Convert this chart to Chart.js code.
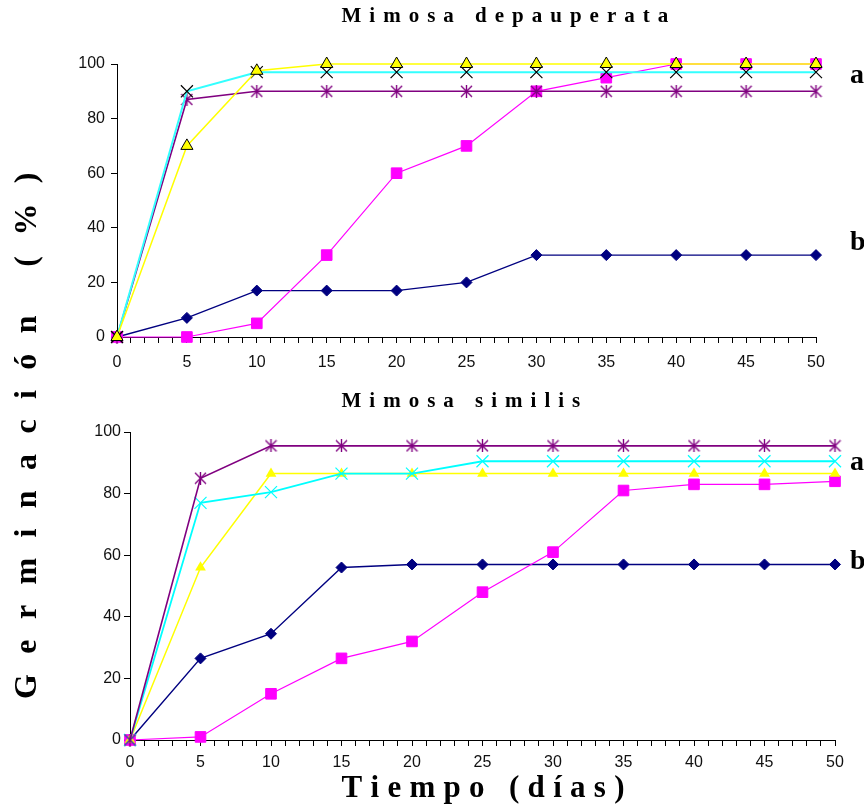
<!DOCTYPE html>
<html lang="es">
<head>
<meta charset="utf-8">
<title>Germinación de Mimosa</title>
<script src="https://cdn.jsdelivr.net/npm/chart.js@4/dist/chart.umd.min.js"></script>
<style>
  html, body { margin: 0; padding: 0; background: #ffffff; }
  #wrap { position: relative; width: 864px; height: 808px; overflow: hidden; }
  #wrap canvas { position: absolute; left: 0; top: 0; }
</style>
</head>
<body>
<div id="wrap">
  <canvas id="cTop" width="864" height="808"></canvas>
  <canvas id="cBottom" width="864" height="808"></canvas>
</div>
<script>
// Días de observación
const dias = [0, 5, 10, 15, 20, 25, 30, 35, 40, 45, 50];

// Mimosa depauperata: germinación acumulada (%)
const depAzul     = [0, 7, 17, 17, 17, 20, 30, 30, 30, 30, 30];
const depMagenta  = [0, 0, 5, 30, 60, 70, 90, 95, 100, 100, 100];
const depAmarillo = [0, 70, 97.5, 100, 100, 100, 100, 100, 100, 100, 100];
const depCian     = [0, 90, 97, 97, 97, 97, 97, 97, 97, 97, 97];
const depMorado   = [0, 87, 90, 90, 90, 90, 90, 90, 90, 90, 90];

// Mimosa similis: germinación acumulada (%)
const simAzul     = [0, 26.5, 34.5, 56, 57, 57, 57, 57, 57, 57, 57];
const simMagenta  = [0, 1, 15, 26.5, 32, 48, 61, 81, 83, 83, 84];
const simAmarillo = [0, 56, 86.5, 86.5, 86.5, 86.5, 86.5, 86.5, 86.5, 86.5, 86.5];
const simCian     = [0, 77, 80.5, 86.5, 86.5, 90.5, 90.5, 90.5, 90.5, 90.5, 90.5];
const simMorado   = [0, 85, 95.5, 95.5, 95.5, 95.5, 95.5, 95.5, 95.5, 95.5, 95.5];

// Eje Y
const yMin = 0, yMax = 100, yPaso = 20;

const puntos = vals => dias.map((d, i) => ({ x: d, y: vals[i] }));

// Marcador asterisco (aspa + trazo vertical)
function asterisco(color, size, lw) {
  const c = document.createElement('canvas');
  c.width = size; c.height = size;
  const g = c.getContext('2d');
  g.strokeStyle = color; g.lineWidth = lw;
  const a = 1, b = size - 1, m = size / 2;
  g.beginPath();
  g.moveTo(a, a); g.lineTo(b, b);
  g.moveTo(b, a); g.lineTo(a, b);
  g.moveTo(m, 0); g.lineTo(m, size);
  g.stroke();
  return c;
}

// Texto con espaciado entre letras
function espaciado(ctx, txt, x, y, gap) {
  let cx = x;
  for (const ch of txt) {
    ctx.fillText(ch, cx, y);
    cx += ctx.measureText(ch).width + gap;
  }
}

const SERIF = '"Liberation Serif", "Times New Roman", serif';
const SANS = '"Liberation Sans", Arial, sans-serif';

function textos(cfg) {
  return {
    id: 'textos',
    afterDraw(chart) {
      const ctx = chart.ctx;
      ctx.save();
      ctx.fillStyle = '#000000';
      ctx.textBaseline = 'alphabetic';
      ctx.textAlign = 'left';
      ctx.font = 'bold 21px ' + SERIF;
      espaciado(ctx, cfg.titulo, 341.5, cfg.tituloY, 8);
      ctx.font = 'bold 28px ' + SERIF;
      ctx.fillText('a', 850, cfg.aY);
      ctx.fillText('b', 850, cfg.bY);
      if (cfg.ejes) {
        ctx.font = 'bold 31px ' + SERIF;
        espaciado(ctx, 'Tiempo (días)', 341.5, 797, 8.3);
        ctx.save();
        ctx.translate(36, 699);
        ctx.rotate(-Math.PI / 2);
        ctx.font = 'bold 32px ' + SERIF;
        espaciado(ctx, 'Germinación (%)', 0, 0, 20.4);
        ctx.restore();
      }
      ctx.restore();
    }
  };
}

function escalas(yPad, xPad) {
  return {
    x: {
      type: 'linear', min: 0, max: 50,
      afterFit: s => { s.height = 40; },
      border: { display: true, color: '#000000', width: 1 },
      grid: { display: true, drawOnChartArea: false, drawTicks: true, tickLength: 6, color: '#000000', lineWidth: 1 },
      ticks: {
        stepSize: 1, autoSkip: false, maxRotation: 0, padding: xPad,
        color: '#111111', font: { family: SANS, size: 16 },
        callback: v => (v % 5 === 0 ? String(v) : '')
      }
    },
    y: {
      type: 'linear', min: yMin, max: yMax,
      afterFit: s => { s.width = 40; },
      border: { display: true, color: '#000000', width: 1 },
      grid: { display: true, drawOnChartArea: false, drawTicks: true, tickLength: 6, color: '#000000', lineWidth: 1 },
      ticks: { stepSize: yPaso, padding: yPad, color: '#111111', font: { family: SANS, size: 16 } }
    }
  };
}

function serie(label, vals, color, lw, extra) {
  return Object.assign({
    label, data: puntos(vals),
    borderColor: color, borderWidth: lw,
    backgroundColor: color, pointBackgroundColor: color, pointBorderColor: color,
    pointBorderWidth: 1, tension: 0, clip: false
  }, extra);
}

const opcionesBase = (pad, yPad, xPad) => ({
  responsive: false, animation: false, devicePixelRatio: 1,
  layout: { padding: pad },
  plugins: { legend: { display: false }, tooltip: { enabled: false }, title: { display: false } },
  scales: escalas(yPad, xPad)
});

// Gráfico superior: Mimosa depauperata
new Chart(document.getElementById('cTop'), {
  type: 'line',
  data: {
    datasets: [
      serie('T3', depAmarillo, '#FFFF00', 1.5, { pointStyle: 'triangle', pointRadius: 7, pointBorderColor: '#000000', pointBorderWidth: 1 }),
      serie('T4', depCian, '#33FFFF', 2, { pointStyle: 'crossRot', pointRadius: 8.5, pointBorderColor: '#000000', pointBorderWidth: 1.2 }),
      serie('T5', depMorado, '#800080', 1.6, { pointStyle: asterisco('#800080', 13, 1.4), pointRadius: 7 }),
      serie('T2', depMagenta, '#FF00FF', 1.2, { pointStyle: 'rect', pointRadius: 7.5 }),
      serie('T1', depAzul, '#000080', 1.4, { pointStyle: 'rectRot', pointRadius: 5.5 })
    ]
  },
  options: opcionesBase({ left: 77, right: 48, top: 64, bottom: 431 }, 6, 10),
  plugins: [textos({ titulo: 'Mimosa depauperata', tituloY: 21.5, aY: 83, bY: 250, ejes: false })]
});

// Gráfico inferior: Mimosa similis
new Chart(document.getElementById('cBottom'), {
  type: 'line',
  data: {
    datasets: [
      serie('T5', simMorado, '#800080', 1.6, { pointStyle: asterisco('#800080', 13, 1.4), pointRadius: 7 }),
      serie('T4', simCian, '#00FFFF', 1.8, { pointStyle: 'crossRot', pointRadius: 8.5, pointBorderWidth: 1.2 }),
      serie('T3', simAmarillo, '#FFFF00', 1.5, { pointStyle: 'triangle', pointRadius: 6.2, pointBorderWidth: 0 }),
      serie('T2', simMagenta, '#FF00FF', 1.2, { pointStyle: 'rect', pointRadius: 7.5 }),
      serie('T1', simAzul, '#000080', 1.4, { pointStyle: 'rectRot', pointRadius: 5.5 })
    ]
  },
  options: opcionesBase({ left: 90, right: 29, top: 432, bottom: 28 }, 3, 7),
  plugins: [textos({ titulo: 'Mimosa similis', tituloY: 406.5, aY: 470, bY: 569, ejes: true })]
});
</script>
</body>
</html>
